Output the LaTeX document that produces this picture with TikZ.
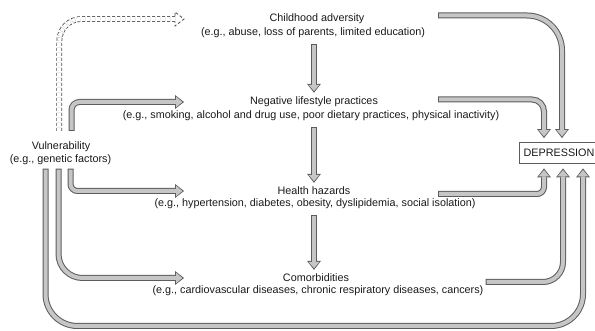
\documentclass[tikz,border=0pt]{standalone}
\usepackage{fontspec}
\setmainfont{Liberation Sans}
\usetikzlibrary{arrows.meta,calc,positioning}
\definecolor{fatline}{HTML}{5C5C5C}
\definecolor{fatfill}{HTML}{C6C6C6}
\definecolor{dashline}{HTML}{4E4E4E}
\tikzset{
  txt/.style={inner sep=0pt, text=black!90, font=\fontsize{10.8}{12}\selectfont},
  fatarrow/.style={line width=6pt, draw=fatline, -{Triangle[width=14pt,length=9pt,line width=0pt]},
    postaction={draw=fatfill, line width=4pt, shorten <=1pt, shorten >=1.6pt,
      -{Triangle[width=10.8pt,length=6.4pt,line width=0pt]}}},
  hollowarrow/.style={draw=dashline, line width=0.8pt, dash pattern=on 3pt off 2pt,
    double=white, double distance=4.2pt},
  hollowhead/.style={draw=dashline, line width=0.8pt, dash pattern=on 3pt off 2pt},
  outcome/.style={draw=fatline, line width=0.8pt, fill=white, minimum width=80pt,
    minimum height=21pt, inner sep=0pt, text=black!90, font=\fontsize{10.8}{12}\selectfont},
}
\begin{document}
\begin{tikzpicture}[x=1pt,y=-1pt]
\useasboundingbox (0,0) rectangle (595,331);
% columns used by the arrows
\coordinate (mcol) at (314,0);
\coordinate (lcol) at (184,0);
\coordinate (rcol) at (438,0);
\coordinate (loopbot) at (300,326);
% texts
\node[txt] (child) at (317,19) {Childhood adversity};
\node[txt] (childeg) at (313,33) {(e.g., abuse, loss of parents, limited education)};
\node[txt] (life) at (314,102) {Negative lifestyle practices};
\node[txt] (lifeeg) at (311,115.5) {(e.g., smoking, alcohol and drug use, poor dietary practices, physical inactivity)};
\node[txt] (hazard) at (314,191) {Health hazards};
\node[txt] (hazardeg) at (315,204) {(e.g., hypertension, diabetes, obesity, dyslipidemia, social isolation)};
\node[txt] (comorb) at (316,278) {Comorbidities};
\node[txt] (comorbeg) at (318,291) {(e.g., cardiovascular diseases, chronic respiratory diseases, cancers)};
\node[txt] (vuln) at (61,147) {Vulnerability};
\node[txt] (vulneg) at (60.5,160) {(e.g., genetic factors)};
\node[outcome] (depr) at (559,152.5) {DEPRESSION};
% chain in the middle
\draw[fatarrow] ($(childeg.south -| mcol)+(0,6)$) -- ($(life.north -| mcol)+(0,-4)$);
\draw[fatarrow] ($(lifeeg.south -| mcol)+(0,6)$) -- ($(hazard.north -| mcol)+(0,-4)$);
\draw[fatarrow] ($(hazardeg.south -| mcol)+(0,6)$) -- ($(comorb.north -| mcol)+(0,-4)$);
% from vulnerability
\coordinate (dtip) at (child -| lcol);
\draw[hollowarrow, rounded corners=22pt] ([xshift=-1.7pt,yshift=11pt]vuln.north) |- ($(dtip)+(-9,0)$);
\draw[hollowhead] ($(dtip)+(-9,-2.9)$) -- ++(0,-4.1) -- (dtip) -- ++(-9,7) -- ++(0,-4.1);
\draw[fatarrow, rounded corners=8pt] ([xshift=10.5pt,yshift=11pt]vuln.north) |- (life -| lcol);
\draw[fatarrow, rounded corners=7pt] ([xshift=10pt,yshift=-3.5pt]vulneg.south) |- (hazard -| lcol);
\draw[fatarrow, rounded corners=24pt] ([xshift=-2pt,yshift=-3.5pt]vulneg.south) |- (comorb -| lcol);
\draw[fatarrow, rounded corners=32pt] ([xshift=-15pt,yshift=-3.5pt]vulneg.south) |- (loopbot)
  -| ([xshift=24pt,yshift=-5pt]depr.south);
% into depression
\draw[fatarrow, rounded corners=35pt] ($(child -| rcol)+(0,-3.5)$) -| ([xshift=3pt,yshift=3.5pt]depr.north);
\draw[fatarrow, rounded corners=12pt] ($(life -| rcol)+(0,-2.5)$) -| ([xshift=-15pt,yshift=3.5pt]depr.north);
\draw[fatarrow, rounded corners=7pt] ($(hazard -| rcol)+(0,3)$) -| ([xshift=-15pt,yshift=-5pt]depr.south);
\draw[fatarrow, rounded corners=20pt] ($(comorb -| comorbeg.east)+(2,4)$) -| ([xshift=4pt,yshift=-5pt]depr.south);
\end{tikzpicture}
\end{document}
